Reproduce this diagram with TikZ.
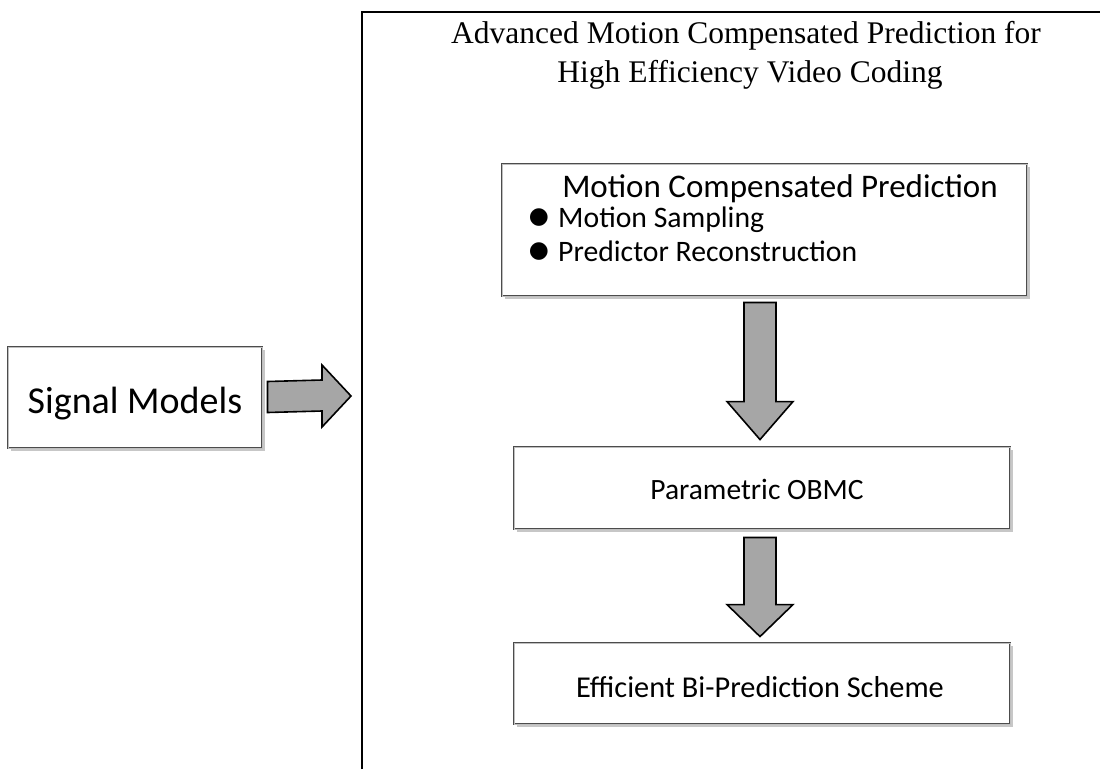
\documentclass[tikz,border=0pt]{standalone}
\usepackage{fontspec}
\setmainfont{Carlito}
\newfontfamily\titlefont{Liberation Serif}
\newfontfamily\symfont{DejaVu Sans}
\usetikzlibrary{calc,shadows}
\tikzset{
  block/.style={draw=black!70, double=black!25, double distance=0.8pt, line width=0.9pt,
    fill=white, inner sep=0pt,
    drop shadow={shadow xshift=2.5pt, shadow yshift=-2.5pt, fill=black!40, opacity=0.55}},
  fatarrow/.style={draw=black, line width=1.6pt, fill=black!35, line join=miter},
  frame/.style={draw=black, line width=2pt},
  txt/.style={inner sep=0pt, anchor=base},
  titletxt/.style={txt, font=\titlefont\fontsize{31.5}{38}\selectfont},
  itemtxt/.style={txt, anchor=base west, font=\fontsize{29.7}{35}\selectfont},
  bullet/.style={inner sep=0pt, font=\symfont\fontsize{23}{27}\selectfont},
}
\begin{document}
\begin{tikzpicture}[x=1pt, y=-1pt]
\useasboundingbox (0,0) rectangle (1100,769);

% open frame of the thesis outline
\coordinate (frameTL) at (362,12);
\coordinate (frameBL) at (362,769);
\coordinate (frameTR) at (1100,12);
\draw[frame] (frameBL) -- (frameTL) -- (frameTR);

\node[titletxt] (title1) at (746,43) {Advanced Motion Compensated Prediction for};
\node[titletxt] (title2) at (750,82) {High Efficiency Video Coding};

% blocks
\node[block, minimum width=254pt, minimum height=101pt] (sig) at (135,397.5) {};
\node[txt, font=\fontsize{38}{45}\selectfont] (sigtxt) at (135,413) {Signal Models};

\node[block, minimum width=525pt, minimum height=132pt] (mcp) at (764.5,230) {};
\node[txt, font=\fontsize{33}{40}\selectfont] (mcpt) at (780,197) {Motion Compensated Prediction};
\node[bullet] (d1) at (539,218) {●};
\node[bullet] (d2) at (539,252) {●};
\node[itemtxt] (b1) at (558,227.5) {Motion Sampling};
\node[itemtxt] (b2) at (558,261.5) {Predictor Reconstruction};

\node[block, minimum width=496pt, minimum height=82pt] (obmc) at (762,488) {};
\node[txt, font=\fontsize{29.5}{35}\selectfont] (obmct) at (757,499) {Parametric OBMC};

\node[block, minimum width=496pt, minimum height=81pt] (eff) at (762,683.5) {};
\node[txt, font=\fontsize{30.3}{36}\selectfont] (efft) at (760,697) {Efficient Bi-Prediction Scheme};

% block arrows
\coordinate (tipR) at (351,396);
\draw[fatarrow] ($(sig.east)+(5,-16)$) -- ($(tipR)+(-29,-16)$) -- ($(tipR)+(-29,-31)$)
  -- (tipR) -- ($(tipR)+(-29,31)$) -- ($(tipR)+(-29,15)$) -- ($(sig.east)+(5,15)$) -- cycle;

\coordinate (tipA) at ($(obmc.north)+(-2,-7)$);
\coordinate (baseA) at ($(mcp.south)+(-4.5,6)$);
\draw[fatarrow] ($(baseA)+(-16,0)$) -- ($(tipA)+(-16,-38)$) -- ($(tipA)+(-33,-38)$) -- (tipA)
  -- ($(tipA)+(33,-38)$) -- ($(tipA)+(16,-38)$) -- ($(baseA)+(16,0)$) -- cycle;

\coordinate (tipB) at ($(eff.north)+(-2,-6)$);
\coordinate (baseB) at ($(obmc.south)+(-2,8)$);
\draw[fatarrow] ($(baseB)+(-16,0)$) -- ($(tipB)+(-16,-32)$) -- ($(tipB)+(-33,-32)$) -- (tipB)
  -- ($(tipB)+(33,-32)$) -- ($(tipB)+(16,-32)$) -- ($(baseB)+(16,0)$) -- cycle;
\end{tikzpicture}
\end{document}
